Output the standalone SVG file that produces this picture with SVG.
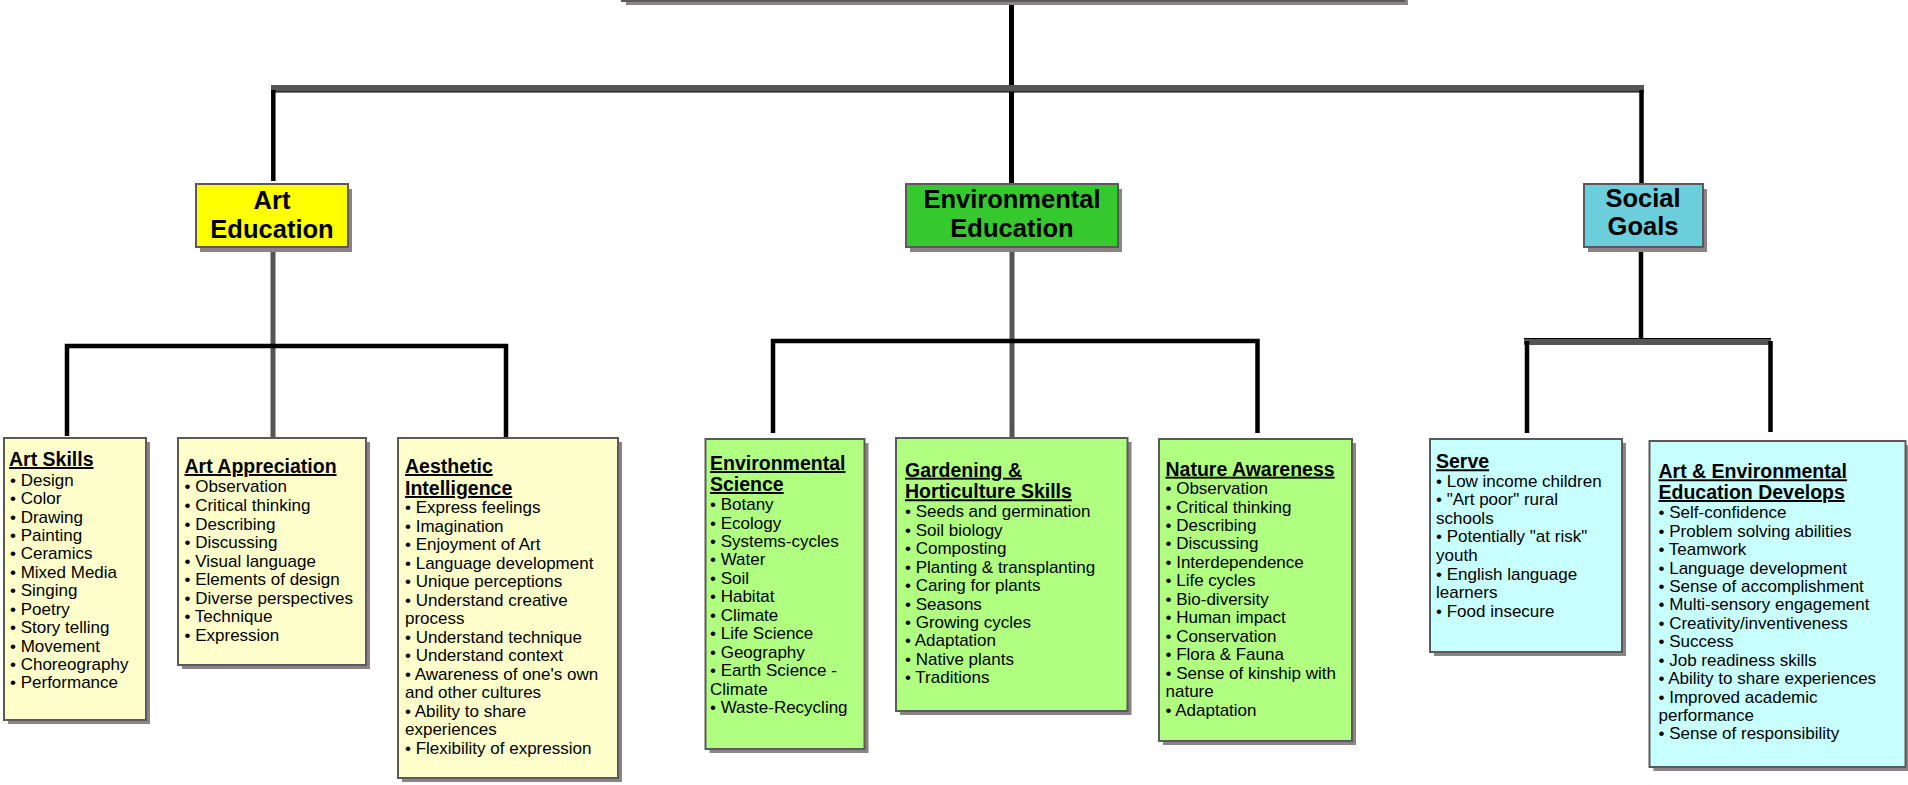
<svg xmlns="http://www.w3.org/2000/svg" width="1908" height="785" viewBox="0 0 1908 785">
<style>
  .shadow { fill: #8C8484; }
  .box { stroke: #5A5A5A; stroke-width: 2; }
  .l2 { font-family: "Liberation Sans", Arial, sans-serif; font-weight: bold; font-size: 25.5px; fill: #000; text-anchor: middle; }
  .item { font-family: "Liberation Sans", Arial, sans-serif; font-size: 17px; fill: #000; }
  .ttl { font-weight: bold; font-size: 19.5px; text-decoration: underline; }
  .blk { stroke: #000; stroke-width: 4.5; fill: none; }
  .gry { stroke: #555; stroke-width: 5; fill: none; }
  .yel { fill: #FFFFCC; }
  .grn { fill: #B0FF80; }
  .cyn { fill: #C8FFFF; }
</style>
<rect width="1908" height="785" fill="#FFFFFF"/>

<g id="connectors">
  <line class="blk" x1="1011.5" y1="0" x2="1011.5" y2="88" style="stroke-width:5"/>
  <rect x="271" y="85" width="1373" height="7" fill="#555555"/>
  <line x1="271" y1="92" x2="1644" y2="92" stroke="#000" stroke-width="1.2"/>
  <line class="blk" x1="273.3" y1="90" x2="273.3" y2="181"/>
  <line class="blk" x1="1011.5" y1="92" x2="1011.5" y2="183" style="stroke-width:5"/>
  <line class="blk" x1="1641.5" y1="90" x2="1641.5" y2="183"/>
  <line class="gry" x1="273" y1="248" x2="273" y2="438"/>
  <path class="blk" d="M67,436 V346 H506 V437"/>
  <line class="gry" x1="1012" y1="248" x2="1012" y2="438"/>
  <path class="blk" d="M773,433 V341 H1257.5 V433"/>
  <line class="blk" x1="1641" y1="248" x2="1641" y2="339"/>
  <rect x="1524" y="338" width="247" height="7" fill="#555555"/>
  <line x1="1524" y1="338.5" x2="1771" y2="338.5" stroke="#000" stroke-width="1.2"/>
  <line class="blk" x1="1527" y1="341" x2="1527" y2="433"/>
  <line class="blk" x1="1770.5" y1="341" x2="1770.5" y2="432"/>
</g>

<g id="top">
  <rect class="shadow" x="626" y="-36" width="782" height="41"/>
  <rect class="box" x="622" y="-40" width="782" height="41" fill="#FFFF00"/>
</g>

<g id="art-education">
  <rect class="shadow" x="200" y="189" width="152" height="63"/>
  <rect class="box" x="196" y="184" width="152" height="63" fill="#FFFF00"/>
  <text class="l2" x="272" y="209">Art</text>
  <text class="l2" x="272" y="238">Education</text>
</g>

<g id="environmental-education">
  <rect class="shadow" x="910" y="189" width="212" height="63"/>
  <rect class="box" x="906" y="184" width="212" height="63" fill="#36C92E"/>
  <text class="l2" x="1012" y="208">Environmental</text>
  <text class="l2" x="1012" y="237">Education</text>
</g>

<g id="social-goals">
  <rect class="shadow" x="1588" y="189" width="119" height="63"/>
  <rect class="box" x="1584" y="184" width="119" height="63" fill="#6CCDDB"/>
  <text class="l2" x="1643" y="207">Social</text>
  <text class="l2" x="1643" y="235">Goals</text>
</g>

<g id="art-skills">
  <rect class="shadow" x="8" y="442" width="142" height="282"/>
  <rect class="box yel" x="4" y="438" width="142" height="282"/>
  <text class="item" x="10">
    <tspan class="ttl" x="9" y="466">Art Skills</tspan>
    <tspan x="10" y="485.7">• Design</tspan>
    <tspan x="10" y="504.1">• Color</tspan>
    <tspan x="10" y="522.5">• Drawing</tspan>
    <tspan x="10" y="541">• Painting</tspan>
    <tspan x="10" y="559.4">• Ceramics</tspan>
    <tspan x="10" y="577.8">• Mixed Media</tspan>
    <tspan x="10" y="596.2">• Singing</tspan>
    <tspan x="10" y="614.6">• Poetry</tspan>
    <tspan x="10" y="633">• Story telling</tspan>
    <tspan x="10" y="651.5">• Movement</tspan>
    <tspan x="10" y="669.9">• Choreography</tspan>
    <tspan x="10" y="688.3">• Performance</tspan>
  </text>
</g>

<g id="art-appreciation">
  <rect class="shadow" x="182" y="442" width="188" height="227"/>
  <rect class="box yel" x="178" y="438" width="188" height="227"/>
  <text class="item">
    <tspan class="ttl" x="184.5" y="473">Art Appreciation</tspan>
    <tspan x="184.5" y="492.3">• Observation</tspan>
    <tspan x="184.5" y="510.9">• Critical thinking</tspan>
    <tspan x="184.5" y="529.5">• Describing</tspan>
    <tspan x="184.5" y="548.1">• Discussing</tspan>
    <tspan x="184.5" y="566.7">• Visual language</tspan>
    <tspan x="184.5" y="585.2">• Elements of design</tspan>
    <tspan x="184.5" y="603.8">• Diverse perspectives</tspan>
    <tspan x="184.5" y="622.4">• Technique</tspan>
    <tspan x="184.5" y="641">• Expression</tspan>
  </text>
</g>

<g id="aesthetic-intelligence">
  <rect class="shadow" x="402" y="442" width="220" height="340"/>
  <rect class="box yel" x="398" y="438" width="220" height="340"/>
  <text class="item">
    <tspan class="ttl" x="405" y="473">Aesthetic</tspan>
    <tspan class="ttl" x="405" y="495">Intelligence</tspan>
    <tspan x="405" y="513.3">• Express feelings</tspan>
    <tspan x="405" y="531.8">• Imagination</tspan>
    <tspan x="405" y="550.3">• Enjoyment of Art</tspan>
    <tspan x="405" y="568.8">• Language development</tspan>
    <tspan x="405" y="587.4">• Unique perceptions</tspan>
    <tspan x="405" y="605.9">• Understand creative</tspan>
    <tspan x="405" y="624.4">process</tspan>
    <tspan x="405" y="642.9">• Understand technique</tspan>
    <tspan x="405" y="661.4">• Understand context</tspan>
    <tspan x="405" y="679.9">• Awareness of one's own</tspan>
    <tspan x="405" y="698.4">and other cultures</tspan>
    <tspan x="405" y="716.9">• Ability to share</tspan>
    <tspan x="405" y="735.4">experiences</tspan>
    <tspan x="405" y="754">• Flexibility of expression</tspan>
  </text>
</g>

<g id="environmental-science">
  <rect class="shadow" x="709.5" y="443" width="159" height="310"/>
  <rect class="box grn" x="705.5" y="439" width="159" height="310"/>
  <text class="item">
    <tspan class="ttl" x="710" y="470">Environmental</tspan>
    <tspan class="ttl" x="710" y="491">Science</tspan>
    <tspan x="710" y="510">• Botany</tspan>
    <tspan x="710" y="528.5">• Ecology</tspan>
    <tspan x="710" y="547">• Systems-cycles</tspan>
    <tspan x="710" y="565.4">• Water</tspan>
    <tspan x="710" y="583.9">• Soil</tspan>
    <tspan x="710" y="602.4">• Habitat</tspan>
    <tspan x="710" y="620.9">• Climate</tspan>
    <tspan x="710" y="639.4">• Life Science</tspan>
    <tspan x="710" y="657.8">• Geography</tspan>
    <tspan x="710" y="676.3">• Earth Science -</tspan>
    <tspan x="710" y="694.8">Climate</tspan>
    <tspan x="710" y="713.3">• Waste-Recycling</tspan>
  </text>
</g>

<g id="gardening">
  <rect class="shadow" x="900" y="442" width="231.5" height="273"/>
  <rect class="box grn" x="896" y="438" width="231.5" height="273"/>
  <text class="item">
    <tspan class="ttl" x="905" y="476.7">Gardening &amp;</tspan>
    <tspan class="ttl" x="905" y="498.3">Horticulture Skills</tspan>
    <tspan x="905" y="517.3">• Seeds and germination</tspan>
    <tspan x="905" y="535.7">• Soil biology</tspan>
    <tspan x="905" y="554.2">• Composting</tspan>
    <tspan x="905" y="572.6">• Planting &amp; transplanting</tspan>
    <tspan x="905" y="591.1">• Caring for plants</tspan>
    <tspan x="905" y="609.5">• Seasons</tspan>
    <tspan x="905" y="628">• Growing cycles</tspan>
    <tspan x="905" y="646.4">• Adaptation</tspan>
    <tspan x="905" y="664.9">• Native plants</tspan>
    <tspan x="905" y="683.3">• Traditions</tspan>
  </text>
</g>

<g id="nature-awareness">
  <rect class="shadow" x="1163" y="443" width="193" height="302"/>
  <rect class="box grn" x="1159" y="439" width="193" height="302"/>
  <text class="item">
    <tspan class="ttl" x="1165.5" y="475.7">Nature Awareness</tspan>
    <tspan x="1165.5" y="494">• Observation</tspan>
    <tspan x="1165.5" y="512.5">• Critical thinking</tspan>
    <tspan x="1165.5" y="531">• Describing</tspan>
    <tspan x="1165.5" y="549.4">• Discussing</tspan>
    <tspan x="1165.5" y="567.9">• Interdependence</tspan>
    <tspan x="1165.5" y="586.4">• Life cycles</tspan>
    <tspan x="1165.5" y="604.9">• Bio-diversity</tspan>
    <tspan x="1165.5" y="623.3">• Human impact</tspan>
    <tspan x="1165.5" y="641.8">• Conservation</tspan>
    <tspan x="1165.5" y="660.3">• Flora &amp; Fauna</tspan>
    <tspan x="1165.5" y="678.8">• Sense of kinship with</tspan>
    <tspan x="1165.5" y="697.2">nature</tspan>
    <tspan x="1165.5" y="715.7">• Adaptation</tspan>
  </text>
</g>

<g id="serve">
  <rect class="shadow" x="1434" y="443" width="192" height="213"/>
  <rect class="box cyn" x="1430" y="439" width="192" height="213"/>
  <text class="item">
    <tspan class="ttl" x="1436" y="468.3">Serve</tspan>
    <tspan x="1436" y="486.7">• Low income children</tspan>
    <tspan x="1436" y="505.3">• "Art poor" rural</tspan>
    <tspan x="1436" y="523.8">schools</tspan>
    <tspan x="1436" y="542.4">• Potentially "at risk"</tspan>
    <tspan x="1436" y="561">youth</tspan>
    <tspan x="1436" y="579.6">• English language</tspan>
    <tspan x="1436" y="598.1">learners</tspan>
    <tspan x="1436" y="616.7">• Food insecure</tspan>
  </text>
</g>

<g id="art-env-develops">
  <rect class="shadow" x="1653.5" y="445" width="256" height="326"/>
  <rect class="box cyn" x="1649.5" y="441" width="256" height="326"/>
  <text class="item">
    <tspan class="ttl" x="1658.5" y="478.3">Art &amp; Environmental</tspan>
    <tspan class="ttl" x="1658.5" y="499">Education Develops</tspan>
    <tspan x="1658.5" y="518.3">• Self-confidence</tspan>
    <tspan x="1658.5" y="536.7">• Problem solving abilities</tspan>
    <tspan x="1658.5" y="555.1">• Teamwork</tspan>
    <tspan x="1658.5" y="573.6">• Language development</tspan>
    <tspan x="1658.5" y="592">• Sense of accomplishment</tspan>
    <tspan x="1658.5" y="610.4">• Multi-sensory engagement</tspan>
    <tspan x="1658.5" y="628.8">• Creativity/inventiveness</tspan>
    <tspan x="1658.5" y="647.2">• Success</tspan>
    <tspan x="1658.5" y="665.7">• Job readiness skills</tspan>
    <tspan x="1658.5" y="684.1">• Ability to share experiences</tspan>
    <tspan x="1658.5" y="702.5">• Improved academic</tspan>
    <tspan x="1658.5" y="720.9">performance</tspan>
    <tspan x="1658.5" y="739.3">• Sense of responsibility</tspan>
  </text>
</g>
</svg>
